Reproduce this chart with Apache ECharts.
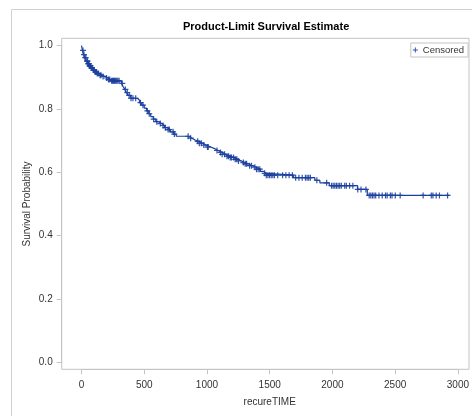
<!DOCTYPE html>
<html>
<head>
<meta charset="utf-8">
<script src="https://cdn.jsdelivr.net/npm/echarts@6/dist/echarts.min.js"></script>
<style>html,body{margin:0;padding:0;background:#fff;}#c{width:472px;height:416px;}</style>
</head>
<body>
<div id="c"></div>
<script>
// Kaplan-Meier step curve: event times and survival after each event
var stepTimes = [0,8,16,26,38,50,62,75,90,105,120,140,160,185,210,235,318,332,345,358,372,392,445,462,480,500,518,536,552,572,592,615,640,662,685,708,735,755,855,880,905,935,965,995,1030,1065,1090,1120,1150,1185,1215,1245,1275,1300,1330,1360,1395,1425,1450,1470,1690,1860,1900,1975,2200,2278,2931];
var stepSurv  = [1.0,0.985,0.972,0.962,0.951,0.943,0.936,0.930,0.923,0.917,0.912,0.907,0.903,0.898,0.893,0.889,0.881,0.871,0.862,0.852,0.843,0.834,0.828,0.820,0.812,0.803,0.794,0.785,0.776,0.768,0.760,0.754,0.748,0.741,0.735,0.728,0.721,0.714,0.708,0.702,0.698,0.692,0.686,0.680,0.674,0.669,0.663,0.657,0.651,0.647,0.641,0.636,0.631,0.627,0.621,0.616,0.610,0.603,0.597,0.591,0.583,0.575,0.567,0.558,0.546,0.527,0.527];
// censored observation times
var censorTimes = [12,20,28,35,44,48,52,56,60,64,68,72,78,84,95,102,110,118,125,135,148,155,172,200,215,225,240,248,255,262,268,275,282,290,300,325,350,365,380,395,410,432,470,490,525,540,575,600,628,650,668,690,700,730,740,850,870,926,939,955,975,1004,1010,1080,1108,1121,1140,1160,1172,1186,1195,1212,1225,1238,1251,1290,1305,1316,1340,1355,1382,1395,1408,1421,1460,1473,1486,1499,1512,1525,1538,1564,1603,1629,1655,1681,1707,1733,1759,1785,1798,1811,1824,1876,1954,1993,2006,2019,2032,2045,2058,2071,2098,2111,2137,2163,2202,2228,2267,2293,2306,2319,2332,2345,2371,2397,2423,2436,2462,2475,2501,2540,2723,2788,2801,2827,2853,2918];
var xTicks = [0,500,1000,1500,2000,2500,3000];
var yTicks = [0.0,0.2,0.4,0.6,0.8,1.0];

var curveData = stepTimes.map(function(t,i){return [t, stepSurv[i]];});
function survAt(t){
  var s = stepSurv[0];
  for (var i=0;i<stepTimes.length;i++){ if (stepTimes[i] <= t) s = stepSurv[i]; else break; }
  return s;
}
var censorData = censorTimes.map(function(t){return [t, survAt(t)];});

var blue = '#1b3f9f';
var gray = '#c4c4c4';
var font = 'Liberation Sans, Arial, sans-serif';
var plus = 'path://M4,0h2v4h4v2h-4v4h-2v-4h-4v-2h4z';

var chart = echarts.init(document.getElementById('c'), null, {renderer:'canvas'});
chart.setOption({
  animation: false,
  backgroundColor: '#fff',
  graphic: [{type:'rect', shape:{x:11.5,y:9.5,width:600,height:600}, style:{fill:'none', stroke:'#d0d0d0', lineWidth:1}, z:-10}],
  title: {text:'Product-Limit Survival Estimate', left:183, top:21.5, padding:0,
    textStyle:{fontFamily:font, fontSize:11, fontWeight:'bold', color:'#000'}},
  legend: {data:[{name:'Censored', icon: plus}], right:4, top:43, padding:[2,4,2,2],
    borderColor:gray, borderWidth:1, itemWidth:5, itemHeight:5, itemGap:3,
    textStyle:{fontFamily:font, fontSize:9.5, color:'#333'}},
  grid: [
    {left:81.5, right:6.3, top:45.7, bottom:53.7, containLabel:false},
    {left:61.7, right:3, top:38.3, bottom:46.7, show:true, borderColor:gray, borderWidth:1, backgroundColor:'transparent'}
  ],
  xAxis: [
    {type:'value', gridIndex:0, min:xTicks[0], max:xTicks[xTicks.length-1], interval:500, offset:7,
      axisLine:{show:true, onZero:false, lineStyle:{color:gray}}, splitLine:{show:false},
      axisTick:{show:true, length:5, lineStyle:{color:gray}},
      axisLabel:{margin:10.5, fontFamily:font, fontSize:10, color:'#333', formatter:function(v){return String(v);}},
      name:'recureTIME', nameLocation:'middle', nameGap:28, nameMoveOverlap:false,
      nameTextStyle:{fontFamily:font, fontSize:10, color:'#333'}},
    {type:'value', gridIndex:1, show:false, min:0, max:1}
  ],
  yAxis: [
    {type:'value', gridIndex:0, min:yTicks[0], max:yTicks[yTicks.length-1], interval:0.2, offset:19.8,
      axisLine:{show:true, onZero:false, lineStyle:{color:gray}}, splitLine:{show:false},
      axisTick:{show:true, length:5, lineStyle:{color:gray}},
      axisLabel:{margin:9, fontFamily:font, fontSize:10, color:'#333', formatter:function(v){return v.toFixed(1);}},
      name:'Survival Probability', nameLocation:'middle', nameGap:29, nameRotate:90, nameMoveOverlap:false,
      nameTextStyle:{fontFamily:font, fontSize:10, color:'#333'}},
    {type:'value', gridIndex:1, show:false, min:0, max:1}
  ],
  series: [
    {type:'line', name:'Survival', xAxisIndex:0, yAxisIndex:0, data:curveData, step:'end',
      showSymbol:false, clip:false, lineStyle:{color:blue, width:1.2}, itemStyle:{color:blue}},
    {type:'scatter', name:'Censored', xAxisIndex:0, yAxisIndex:0, data:censorData, symbol:plus,
      symbolSize:6, clip:false, itemStyle:{color:blue, opacity:0.9}}
  ]
});
</script>
</body>
</html>
